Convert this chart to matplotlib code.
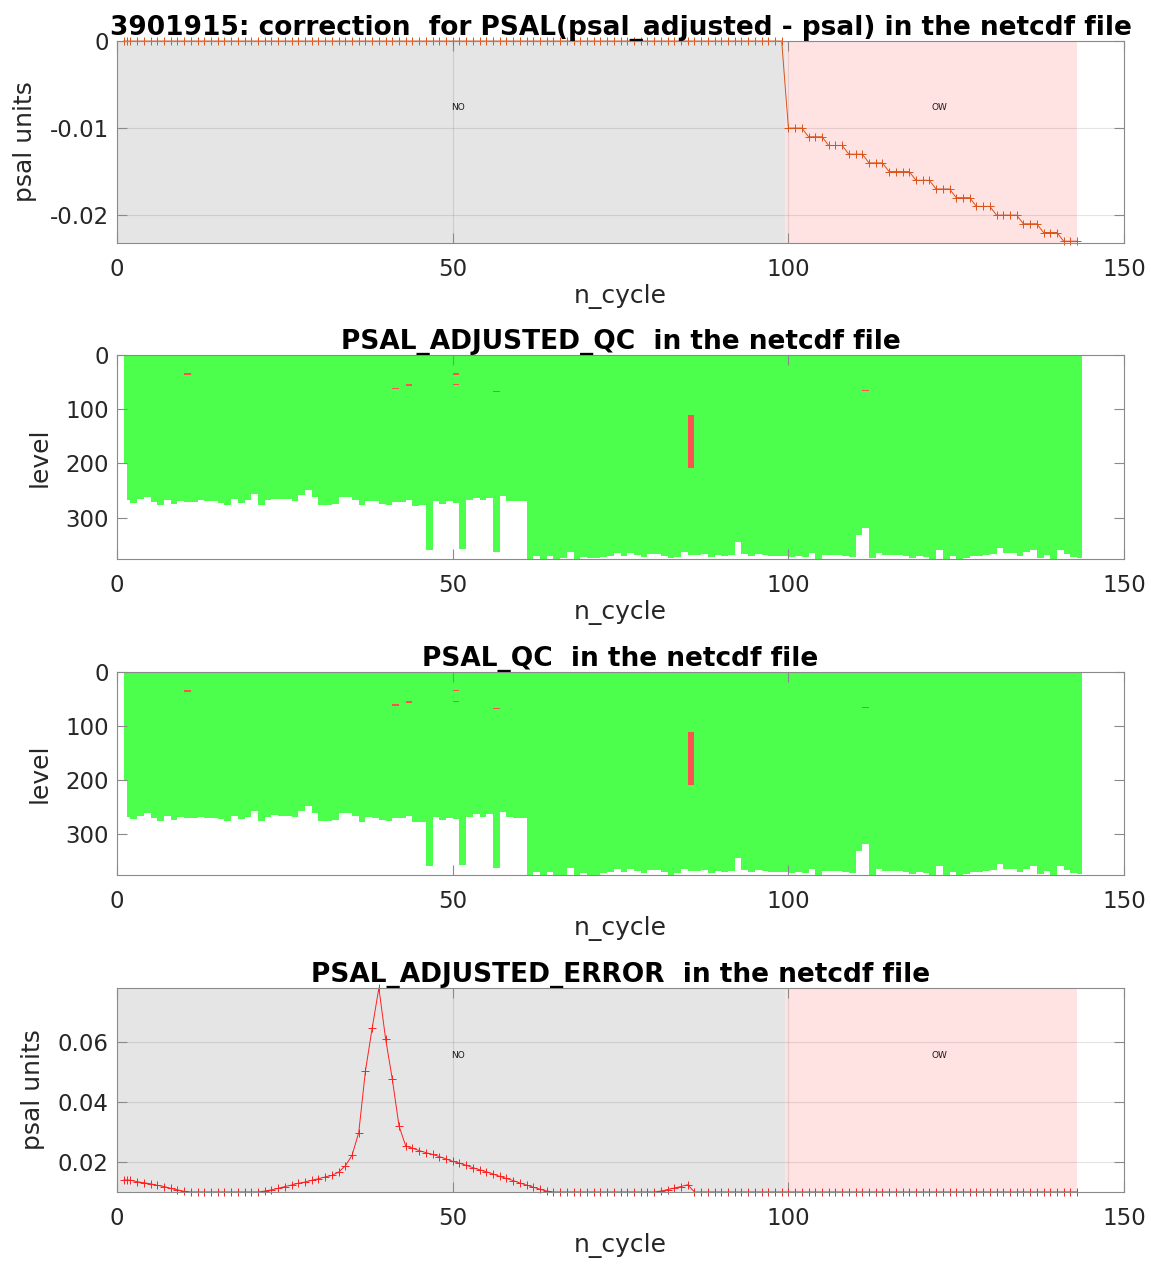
import numpy as np
import matplotlib
matplotlib.use("Agg")
import matplotlib.pyplot as plt
from matplotlib.colors import ListedColormap, BoundaryNorm

plt.rcParams["font.family"] = ["DejaVu Sans"]
plt.rcParams["axes.unicode_minus"] = False

float_id = "3901915"

# profile positions along n_cycle: descending profile of cycle 1 (at 1.0),
# ascending profile of cycle 1 (at 1.5), then cycles 2..143
profile_cycle = np.concatenate([[1.0, 1.5], np.arange(2, 144)])

# PSAL correction (psal_adjusted - psal)
psal_correction = ([0.0] * 100
                   + [-0.010] * 3 + [-0.011] * 3 + [-0.012] * 3 + [-0.013] * 3
                   + [-0.014] * 3 + [-0.015] * 4 + [-0.016] * 3 + [-0.017] * 3
                   + [-0.018] * 3 + [-0.019] * 3 + [-0.020] * 4 + [-0.021] * 3
                   + [-0.022] * 3 + [-0.023] * 3)

# PSAL_ADJUSTED_ERROR
psal_error = ([0.0140, 0.0140, 0.0139, 0.0134, 0.0131, 0.0127, 0.0122, 0.0118,
               0.0112, 0.0107, 0.0102]
              + [0.0100] * 11
              + [0.0103, 0.0107, 0.0112, 0.0118, 0.0123, 0.0129, 0.0133, 0.0139,
                 0.0144, 0.0150, 0.0155, 0.0166, 0.0187, 0.0222, 0.0298, 0.0504,
                 0.0646, 0.0780, 0.0611, 0.0476, 0.0320, 0.0253, 0.0246, 0.0238,
                 0.0231, 0.0225, 0.0218, 0.0210, 0.0202, 0.0196, 0.0189, 0.0181,
                 0.0174, 0.0167, 0.0160, 0.0152, 0.0145, 0.0138, 0.0130, 0.0123,
                 0.0116, 0.0109, 0.0103]
              + [0.0100] * 16
              + [0.0103, 0.0108, 0.0113, 0.0118, 0.0124]
              + [0.0100] * 58)

# number of levels in each profile
profile_levels = [
    200, 268, 273, 266, 262, 271, 276, 267, 274, 269, 271, 271, 268, 270, 270,
    272, 276, 266, 273, 268, 257, 276, 268, 265, 266, 266, 269, 258, 249, 261,
    276, 276, 274, 262, 262, 267, 277, 269, 270, 274, 276, 271, 271, 267, 278,
    277, 359, 269, 274, 270, 273, 357, 268, 263, 268, 263, 363, 260, 269, 270,
    270, 376, 370, 376,
    370, 376, 375, 363, 376, 373, 375, 375, 373, 370, 365, 371, 365, 368, 373,
    367, 367, 370, 375, 373, 364, 368, 368, 367, 373, 368, 370, 369, 345, 367,
    370, 366, 369, 370, 370, 370, 373, 370, 373, 365,
    376, 369, 369, 369, 371, 372, 331, 319, 375, 365, 369, 369, 368, 371, 374,
    371, 373, 376, 360, 376, 371, 376, 374, 371, 371, 368, 366, 356, 365, 365,
    370, 364, 360, 374, 368, 376, 360, 367, 373, 374,
]

# salinity values flagged bad: cycle, first level, last level
bad_cycle = [10, 41, 43, 50, 50, 56, 85, 111]
bad_first = [34, 60, 54, 33, 53, 66, 111, 64]
bad_last = [36, 62, 56, 35, 55, 68, 208, 66]

# calibration methods along the record
method_name = ["NO", "OW"]
method_first = [1, 100]
method_last = [99, 143]

n_level_axis = 376

fig = plt.figure(figsize=(11.51, 12.66), dpi=100)
left, width = 0.1017, 0.8749
boxes = [(0.8081, 0.1595), (0.5585, 0.1611), (0.3088, 0.1604), (0.0585, 0.1611)]
axes = [fig.add_axes([left, b, width, h]) for b, h in boxes]

spine_col = "#8a8a8a"
text_col = "#262626"
tick_fs = 16.5
label_fs = 18
title_fs = 19


def style_axes(ax):
    for s in ax.spines.values():
        s.set_color(spine_col)
        s.set_linewidth(0.8)
    ax.tick_params(direction="in", length=7, width=0.8, color=spine_col,
                   labelsize=tick_fs, labelcolor=text_col,
                   top=True, right=True, pad=6)
    ax.tick_params(axis="x", pad=11)
    ax.set_xlim(0, 150)
    ax.set_xticks([0, 50, 100, 150])
    ax.set_xlabel("n_cycle", fontsize=label_fs, color=text_col, labelpad=2)


def method_spans(ax):
    bounds = [method_first[0] - 1]
    for k in range(len(method_name) - 1):
        bounds.append((method_last[k] + method_first[k + 1]) / 2)
    bounds.append(method_last[-1])
    colours = ["#e5e5e5", "#ffe3e3"]
    for k, name in enumerate(method_name):
        ax.axvspan(bounds[k], bounds[k + 1], color=colours[k], lw=0, zorder=0.1)
        mid = (bounds[k] + bounds[k + 1]) / 2
        ax.text(mid, 0.67, name, transform=ax.get_xaxis_transform(),
                fontsize=6.5, color="#1a1a1a", ha="left", va="center", zorder=3)


def grid_on(ax):
    ax.set_axisbelow(True)
    ax.grid(True, color="#262626", alpha=0.12, linewidth=0.8)


# ---- correction panel
ax = axes[0]
method_spans(ax)
grid_on(ax)
ax.plot(profile_cycle, psal_correction, color="#d95319", lw=0.7, marker="+",
        ms=6, mew=0.7, zorder=2, clip_on=False)
ax.set_ylim(-0.0232, 0)
ax.set_yticks([-0.02, -0.01, 0])
ax.set_yticklabels(["-0.02", "-0.01", "0"])
style_axes(ax)
ax.set_ylabel("psal units", fontsize=label_fs, color=text_col, labelpad=9)
ax.set_title(f"{float_id}: correction  for PSAL(psal_adjusted - psal) in the netcdf file",
             fontsize=title_fs, fontweight="bold", pad=4)

# ---- QC panels
x_edges = np.append(profile_cycle, profile_cycle[-1] + 0.7)
y_edges = np.arange(n_level_axis + 1)
qc = np.full((n_level_axis, len(profile_cycle)), np.nan)
for i, n in enumerate(profile_levels):
    qc[:n, i] = 1
for c, a, b in zip(bad_cycle, bad_first, bad_last):
    i = int(np.where(profile_cycle == c)[0][0])
    qc[a:b + 1, i] = 4
qc_cmap = ListedColormap(["#4cff4c", "#ff5050"])
qc_norm = BoundaryNorm([0, 2.5, 5], qc_cmap.N)

for ax, title in [(axes[1], "PSAL_ADJUSTED_QC  in the netcdf file"),
                  (axes[2], "PSAL_QC  in the netcdf file")]:
    ax.pcolormesh(x_edges, y_edges, np.ma.masked_invalid(qc), cmap=qc_cmap,
                  norm=qc_norm, shading="flat", antialiased=False,
                  edgecolors="none", zorder=1)
    ax.set_ylim(n_level_axis, 0)
    ax.set_yticks([0, 100, 200, 300])
    style_axes(ax)
    ax.set_ylabel("level", fontsize=label_fs, color=text_col, labelpad=10)
    ax.set_title(title, fontsize=title_fs, fontweight="bold", pad=4)

# ---- adjusted error panel
ax = axes[3]
method_spans(ax)
grid_on(ax)
ax.plot(profile_cycle, psal_error, color="#ff2020", lw=0.7, marker="+",
        ms=6, mew=0.7, zorder=2, clip_on=False)
ax.set_ylim(0.01, 0.078)
ax.set_yticks([0.02, 0.04, 0.06])
ax.set_yticklabels(["0.02", "0.04", "0.06"])
style_axes(ax)
ax.set_ylabel("psal units", fontsize=label_fs, color=text_col, labelpad=9)
ax.set_title("PSAL_ADJUSTED_ERROR  in the netcdf file",
             fontsize=title_fs, fontweight="bold", pad=4)

fig.savefig("out.png", dpi=100, facecolor="white")
